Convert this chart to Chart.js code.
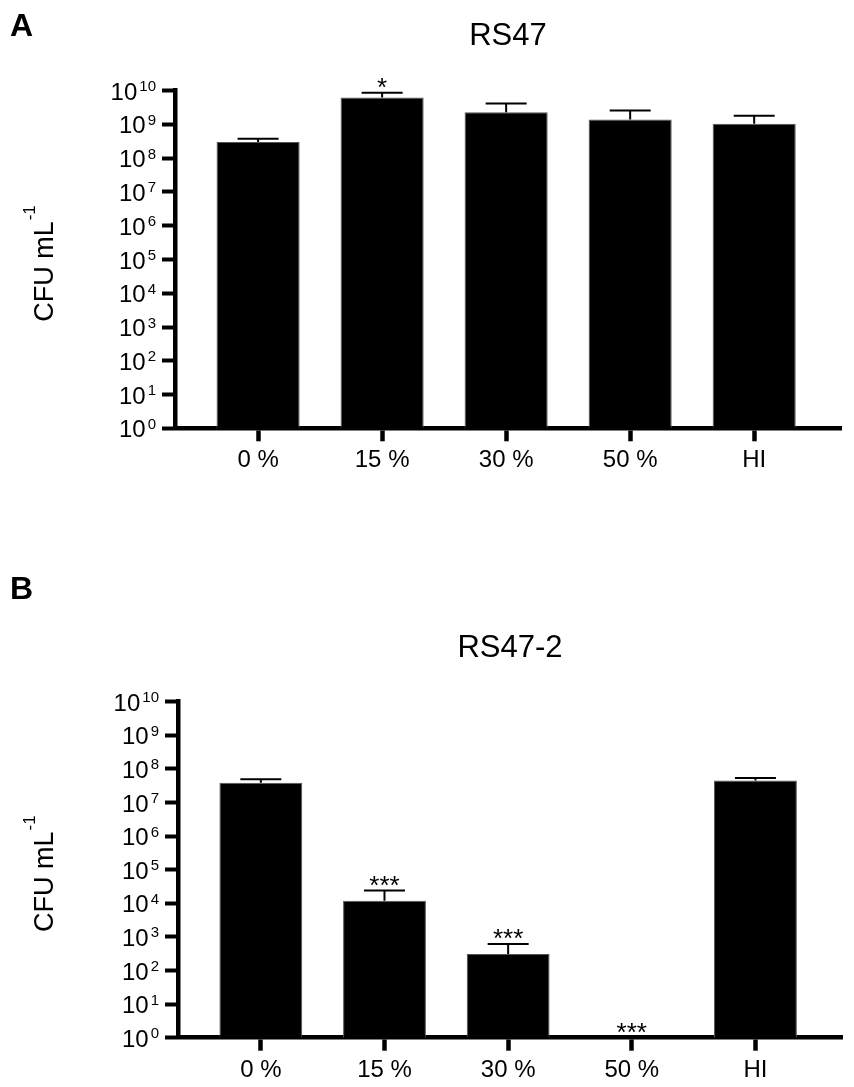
<!DOCTYPE html>
<html>
<head>
<meta charset="utf-8">
<script src="https://cdn.jsdelivr.net/npm/chart.js@4.4.1/dist/chart.umd.min.js"></script>
<style>
  body { margin: 0; background: #fff; overflow: hidden; }
  canvas { display: block; }
</style>
</head>
<body>
<canvas id="chartA" width="854" height="520"></canvas>
<canvas id="chartB" width="854" height="567"></canvas>
<script>
// categories and log decades on the y axis
const groups = ['0 %', '15 %', '30 %', '50 %', 'HI'];
const decades = [0, 1, 2, 3, 4, 5, 6, 7, 8, 9, 10];

// RS47 (panel A)
const rs47Mean = [3.0e8, 6.3e9, 2.3e9, 1.4e9, 1.05e9];
const rs47Upper = [3.8e8, 8.7e9, 4.2e9, 2.6e9, 1.8e9];
const rs47Stars = ['', '*', '', '', ''];

// RS47-2 (panel B)
const rs472Mean = [3.9e7, 1.2e4, 3.1e2, 0, 4.5e7];
const rs472Upper = [4.9e7, 2.4e4, 6.2e2, null, 5.4e7];
const rs472Stars = ['', '***', '***', '***', ''];

const FONT = '"Liberation Sans", Arial, Helvetica, sans-serif';

function makePanel(id, cfg) {
  const canvas = document.getElementById(id);
  const H = canvas.height;

  const extras = {
    id: 'extras',
    afterDatasetsDraw(chart) {
      const ctx = chart.ctx;
      const meta = chart.getDatasetMeta(0);
      const ys = chart.scales.y;
      ctx.save();
      ctx.strokeStyle = '#000';
      ctx.fillStyle = '#000';
      ctx.lineWidth = 2;
      ctx.font = '26px ' + FONT;
      ctx.textAlign = 'center';
      ctx.textBaseline = 'alphabetic';
      meta.data.forEach((bar, i) => {
        let top = ys.getPixelForValue(cfg.means[i] || 1);
        if (cfg.upper[i] != null) {
          const yt = ys.getPixelForValue(cfg.upper[i]);
          ctx.beginPath();
          ctx.moveTo(bar.x, top);
          ctx.lineTo(bar.x, yt);
          ctx.moveTo(bar.x - 20.5, yt);
          ctx.lineTo(bar.x + 20.5, yt);
          ctx.stroke();
          top = yt;
        }
        if (cfg.stars[i]) ctx.fillText(cfg.stars[i], bar.x, top + 3);
      });
      ctx.restore();
    },
    afterDraw(chart) {
      const ctx = chart.ctx;
      const ys = chart.scales.y;
      const area = chart.chartArea;
      ctx.save();
      ctx.fillStyle = '#000';
      ctx.textBaseline = 'alphabetic';

      // 10^n tick labels
      ctx.textAlign = 'right';
      const xr = area.left - 19;
      decades.forEach(e => {
        const py = ys.getPixelForValue(Math.pow(10, e));
        const sup = String(e);
        ctx.font = '15px ' + FONT;
        const sw = ctx.measureText(sup).width;
        ctx.fillText(sup, xr, py + 0.5);
        ctx.font = '24px ' + FONT;
        ctx.fillText('10', xr - sw - 2, py + 9);
      });

      // y axis title with superscript
      ctx.save();
      const cy = (area.top + area.bottom) / 2 + 4;
      ctx.translate(53, cy);
      ctx.rotate(-Math.PI / 2);
      ctx.textAlign = 'left';
      ctx.font = '27px ' + FONT;
      const mainW = ctx.measureText('CFU mL').width;
      ctx.font = '17px ' + FONT;
      const supW = ctx.measureText('-1').width;
      const W = mainW + 1 + supW;
      ctx.font = '27px ' + FONT;
      ctx.fillText('CFU mL', -W / 2, 0);
      ctx.font = '17px ' + FONT;
      ctx.fillText('-1', -W / 2 + mainW + 1, -18);
      ctx.restore();

      // panel letter
      ctx.textAlign = 'left';
      ctx.font = 'bold 32px ' + FONT;
      ctx.fillText(cfg.letter, 10, cfg.letterY);
      ctx.restore();
    }
  };

  return new Chart(canvas, {
    type: 'bar',
    data: {
      datasets: [{
        data: cfg.means.map((v, i) => ({ x: i, y: v })),
        backgroundColor: '#000',
        borderColor: '#555',
        borderWidth: 1,
        barPercentage: 0.67,
        categoryPercentage: 1.0
      }]
    },
    options: {
      responsive: false,
      animation: false,
      layout: { padding: { left: 0, right: 854 - cfg.right, top: 0, bottom: 0 } },
      plugins: {
        legend: { display: false },
        tooltip: { enabled: false },
        title: {
          display: true,
          text: cfg.title,
          color: '#000',
          fullSize: false,
          font: { family: FONT, size: 31, weight: 'normal' },
          padding: { top: cfg.titleTop, bottom: cfg.titleBottom }
        }
      },
      scales: {
        x: {
          type: 'linear',
          min: -0.67,
          max: 4.7,
          offset: false,
          afterBuildTicks: s => { s.ticks = groups.map((g, i) => ({ value: i })); },
          afterFit: s => { s.height = H - cfg.bottom; },
          ticks: {
            callback: (v, i) => groups[i],
            color: '#000',
            font: { family: FONT, size: 24 },
            padding: 5,
            maxRotation: 0,
            autoSkip: false
          },
          grid: { offset: false, drawOnChartArea: false, drawTicks: true, tickLength: 13, tickWidth: 4.5, tickColor: '#000' },
          border: { display: true, color: '#000', width: 4.5 }
        },
        y: {
          type: 'logarithmic',
          min: 1,
          max: 1e10,
          afterBuildTicks: s => { s.ticks = decades.map(e => ({ value: Math.pow(10, e), major: true })); },
          afterFit: s => { s.width = cfg.left; },
          ticks: { display: false },
          grid: { drawOnChartArea: false, drawTicks: true, tickLength: 13, tickWidth: 4, tickColor: '#000' },
          border: { display: true, color: '#000', width: 4.5 }
        }
      }
    },
    plugins: [extras]
  });
}

makePanel('chartA', {
  title: 'RS47', letter: 'A', letterY: 36,
  means: rs47Mean, upper: rs47Upper, stars: rs47Stars,
  left: 175, right: 841, bottom: 428.3,
  titleTop: 17.9, titleBottom: 35.6
});

makePanel('chartB', {
  title: 'RS47-2', letter: 'B', letterY: 79,
  means: rs472Mean, upper: rs472Upper, stars: rs472Stars,
  left: 178, right: 842, bottom: 517.7,
  titleTop: 109.9, titleBottom: 34.6
});
</script>
</body>
</html>
